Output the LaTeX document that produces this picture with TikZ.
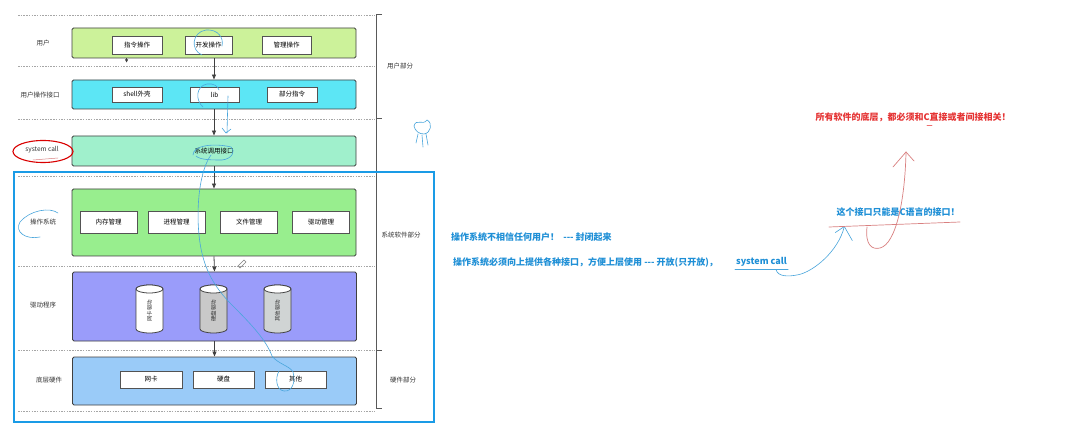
\documentclass[tikz,border=0pt]{standalone}
\usepackage{fontspec}
\setmainfont{Noto Sans CJK SC}
\usetikzlibrary{arrows.meta,calc}
\definecolor{userfill}{HTML}{CCF29A}
\definecolor{apifill}{HTML}{5CE6F5}
\definecolor{scfill}{HTML}{A0F0CC}
\definecolor{osfill}{HTML}{98EE8E}
\definecolor{drvfill}{HTML}{9A9CFA}
\definecolor{hwfill}{HTML}{9ACBF8}
\definecolor{boxline}{HTML}{404040}
\definecolor{frameblue}{HTML}{1A9BE6}
\definecolor{handblue}{HTML}{4AA6DC}
\definecolor{notered}{HTML}{E53333}
\definecolor{noteblue}{HTML}{1E8FD6}
\definecolor{handred}{HTML}{D98080}
\definecolor{cylgray}{HTML}{C9C9C9}
\definecolor{cylgrayb}{HTML}{D0D4D4}
\begin{document}
\begin{tikzpicture}[x=1pt,y=-1pt,
  layer/.style={draw=boxline, line width=0.9pt, rounded corners=1.5pt, minimum width=284pt, inner sep=0pt},
  ibox/.style={draw=boxline!90, fill=white, line width=0.9pt, inner sep=0pt, font=\fontsize{6.5}{7}\selectfont},
  lbl/.style={font=\fontsize{6.5}{7}\selectfont, text=black!80, inner sep=0pt},
  flow/.style={draw=black!75, line width=0.8pt, -{Triangle[length=5pt,width=4pt]}},
  sepline/.style={draw=black!35, line width=0.5pt, dash pattern=on 1.5pt off 1.2pt},
  hand/.style={draw=handblue, line width=0.6pt, line cap=round},
  redhand/.style={draw=handred, line width=0.7pt, line cap=round},
  note/.style={font=\fontsize{9}{10}\selectfont\bfseries, inner sep=0pt},
  cyltext/.style={font=\fontsize{5.5}{6}\selectfont, rotate=90, inner sep=0pt, text=black!80}
]
\useasboundingbox[fill=white] (0,0) rectangle (1086,435);

% separator dashed lines
\foreach \yy in {15,66,119,176,266,350,411}
  \draw[sepline] (18,\yy) -- (375,\yy);

% layers
\node[layer, fill=userfill, minimum height=30pt] (user) at (214,43) {};
\node[layer, fill=apifill, minimum height=29pt] (api) at (214,94.5) {};
\node[layer, fill=scfill, minimum height=30pt, font=\fontsize{6.5}{7}\selectfont] (sc) at (214,151) {系统调用接口};
\node[layer, fill=osfill, minimum height=67pt] (os) at (214,222.5) {};
\node[layer, fill=drvfill, minimum height=69pt] (drv) at (214.5,306.5) {};
\node[layer, fill=hwfill, minimum height=48pt] (hw) at (214.5,381) {};

% inner boxes
\node[ibox, minimum width=50pt, minimum height=18pt] (u1) at (137,45) {指令操作};
\node[ibox, minimum width=47pt, minimum height=18pt] (u2) at (208.5,45) {开发操作};
\node[ibox, minimum width=49pt, minimum height=18pt] (u3) at (286.5,45) {管理操作};

\node[ibox, minimum width=50pt, minimum height=15pt] (a1) at (137,94.5) {shell外壳};
\node[ibox, minimum width=49pt, minimum height=15pt] (a2) at (214.5,94.5) {lib};
\node[ibox, minimum width=50pt, minimum height=15pt] (a3) at (292,94.5) {部分指令};

\node[ibox, minimum width=57pt, minimum height=22pt] (o1) at (108.5,222) {内存管理};
\node[ibox, minimum width=57pt, minimum height=22pt] (o2) at (176.5,222) {进程管理};
\node[ibox, minimum width=57pt, minimum height=22pt] (o3) at (249,222) {文件管理};
\node[ibox, minimum width=57pt, minimum height=22pt] (o4) at (321,222) {驱动管理};

\node[ibox, minimum width=62pt, minimum height=17pt] (h1) at (151,379.5) {网卡};
\node[ibox, minimum width=61pt, minimum height=17pt] (h2) at (223.5,379.5) {硬盘};
\node[ibox, minimum width=61pt, minimum height=17pt] (h3) at (295.5,379.5) {其他};

% cylinders
\foreach \cx/\cf in {149.5/white, 213.5/cylgray, 277.5/cylgrayb}{
  \draw[draw=boxline, line width=0.8pt, fill=\cf]
    (\cx-13.5,289) -- (\cx-13.5,329) arc(180:0:13.5 and 4) -- (\cx+13.5,289) arc(0:-180:13.5 and 4) -- cycle;
  \draw[draw=boxline, line width=0.8pt, fill=white] (\cx,289) ellipse (13.5 and 4);
}
\node[cyltext] (c1) at (149.5,311) {网卡驱动};
\node[cyltext] (c2) at (213.5,311) {硬盘驱动};
\node[cyltext] (c3) at (277.5,311) {其他驱动};

% flow arrows
\draw[flow] (user.south) -- (api.north);
\draw[flow] (api.south) -- (sc.north);
\draw[flow] (sc.south) -- (os.north);
\draw[flow] (os.south) -- (drv.north);
\draw[flow] (drv.south) -- (hw.north);
\coordinate (smalltop) at ($(user.south west)+(55,0)$);
\coordinate (smallbot) at ($(user.south west)+(55,4)$);
\draw[draw=black!75, line width=0.5pt, -{Triangle[length=3pt,width=3pt]}] (smalltop) -- (smallbot);

% left labels
\node[lbl] (l1) at (43,43) {用户};
\node[lbl] (l2) at (40,95) {用户操作接口};
\node[lbl] (l3) at (42,150) {system call};
\node[lbl] (l4) at (43,222) {操作系统};
\node[lbl] (l5) at (43,305) {驱动程序};
\node[lbl] (l6) at (49,380) {底层硬件};

% red ellipse round system call
\draw[draw=red!85!black, line width=1.1pt] (43,151.5) ellipse (30 and 11);
\draw[redhand, line width=0.5pt] (33,160) -- (58,158);

% right bracket
\draw[draw=black!65, line width=0.9pt] (382,14) -- (376,14) -- (376,408) -- (382,408);
\draw[draw=black!65, line width=0.9pt] (376,118) -- (382,118);
\draw[draw=black!65, line width=0.9pt] (376,350) -- (382,350);
\node[lbl] (b1) at (400,66) {用户部分};
\node[lbl] (b2) at (401,235) {系统软件部分};
\node[lbl] (b3) at (403,380) {硬件部分};

% blue frame
\draw[draw=frameblue, line width=2.6pt] (14,172) rectangle (434,422);

% handwritten blue strokes in diagram
\draw[hand] (202,55) .. controls (190,50) and (192,32) .. (206,30) .. controls (218,29) and (224,38) .. (222,46);
\draw[hand] (203,107) .. controls (195,100) and (196,86) .. (207,84) .. controls (213,83) and (218,86) .. (219,90);
\draw[hand] (228,96) -- (227,133);
\draw[hand] (222,128) -- (226,133) -- (231,129);
\draw[hand] (193,155) .. controls (193,145) and (215,143) .. (231,147) .. controls (236,151) and (232,159) .. (222,160) .. controls (212,160) and (200,160) .. (196,156);
\draw[hand] (211,155) .. controls (200,170) and (196,205) .. (199,235) .. controls (202,265) and (212,285) .. (232,305) .. controls (252,325) and (266,340) .. (272,356) .. controls (278,364) and (290,366) .. (293,372) .. controls (296,382) and (292,392) .. (284,391) .. controls (276,390) and (275,378) .. (279,371);
\draw[hand] (58,213) .. controls (50,207) and (30,210) .. (20,222) .. controls (14,232) and (26,240) .. (40,237);
\draw[hand] (414,126) .. controls (416,118) and (423,126) .. (427,120) .. controls (433,123) and (431,133) .. (424,134) .. controls (419,134) and (415,131) .. (414,126);
\draw[hand] (418,134) -- (416,143);
\draw[hand] (422,135) -- (423,147);
\draw[hand] (426,134) -- (428,145);
\draw[hand, draw=black!50] (238,266) -- (244,260) -- (246,262) -- (240,268) -- cycle;

% right-hand notes
\node[note, text=noteblue, anchor=west] (n1) at (451,237) {操作系统不相信任何用户！\ \ -{}-{}- 封闭起来};
\node[note, text=noteblue, anchor=west] (n2) at (453,262) {操作系统必须向上提供各种接口，方便上层使用 -{}-{}- 开放(只开放)，};
\node[note, text=noteblue, anchor=west] (sysc) at (736,262) {system call};
\node[note, text=noteblue] (n3) at (898,212) {这个接口只能是C语言的接口！};
\node[note, text=notered] (n4) at (913,117) {所有软件的底层，都必须和C直接或者间接相关！};

\coordinate (ulA) at ($(sysc.south west)+(-1,3)$);
\coordinate (ulB) at ($(sysc.south east)+(1,3)$);
\draw[hand, line width=0.8pt] (ulA) -- (ulB);
\coordinate (tipB) at ($(n3.south west)+(8,10)$);
\draw[hand] ($(ulB)+(-12,0)$) .. controls ($(ulB)+(-10,7)$) and ($(ulB)+(0,7)$) .. ($(ulB)+(10,5)$) .. controls ($(ulB)+(25,2)$) and ($(tipB)+(-6,25)$) .. (tipB);
\draw[hand] ($(tipB)+(-9,6)$) -- (tipB) -- ($(tipB)+(8,14)$);

\coordinate (rl1) at (829,227);
\coordinate (rl2) at (960,222);
\draw[redhand] (rl1) -- (rl2);
\coordinate (tipR) at (906,152);
\draw[redhand] (867,227) .. controls (865,245) and (872,250) .. (880,248) .. controls (896,244) and (905,200) .. (tipR);
\draw[redhand] ($(tipR)+(-13,15)$) -- (tipR) -- ($(tipR)+(8,9)$);
\draw[redhand, draw=notered!70] ($(n4.south)+(14,4)$) -- ($(n4.south)+(19,4)$);
\end{tikzpicture}
\end{document}
